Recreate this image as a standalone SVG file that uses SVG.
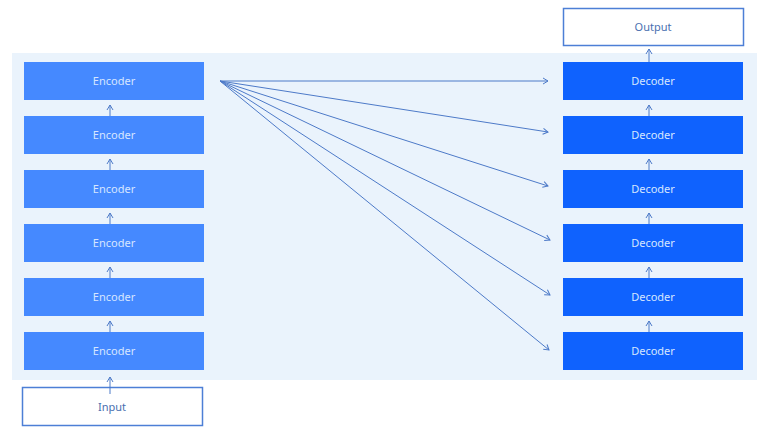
<svg xmlns="http://www.w3.org/2000/svg" width="768" height="432" viewBox="0 0 768 432">
<defs>
<marker id="ah" markerWidth="8" markerHeight="8" refX="6" refY="4" orient="auto" markerUnits="userSpaceOnUse">
<path d="M1,1 L6,4 L1,7" fill="none" stroke="#4d7ac8" stroke-width="1"/>
</marker>
</defs>
<style>
.enc{fill:#4589ff}
.dec{fill:#0f62fe}
.io{fill:#ffffff;stroke:#4d7fd6;stroke-width:1.5}
.t{font-family:"Noto Sans","Liberation Sans",sans-serif;font-size:11px;text-anchor:middle;dominant-baseline:central}
.tl{fill:#d6e6ff}
.td{fill:#4a6fb0}
.c{stroke:#4d7ac8;stroke-width:1;fill:none;marker-end:url(#ah)}
</style>
<rect x="12" y="53" width="745" height="327" fill="#eaf3fc"/>
<g id="input"><rect class="io" x="22.5" y="387.5" width="180" height="38"/><text class="t td" x="112" y="406">Input</text></g>
<g id="output"><rect class="io" x="563.5" y="8.5" width="180" height="37"/><text class="t td" x="653" y="26">Output</text></g>
<g id="encoder1"><rect class="enc" x="24" y="62" width="180" height="38"/><text class="t tl" x="114" y="80">Encoder</text></g>
<g id="encoder2"><rect class="enc" x="24" y="116" width="180" height="38"/><text class="t tl" x="114" y="134">Encoder</text></g>
<g id="encoder3"><rect class="enc" x="24" y="170" width="180" height="38"/><text class="t tl" x="114" y="188">Encoder</text></g>
<g id="encoder4"><rect class="enc" x="24" y="224" width="180" height="38"/><text class="t tl" x="114" y="242">Encoder</text></g>
<g id="encoder5"><rect class="enc" x="24" y="278" width="180" height="38"/><text class="t tl" x="114" y="296">Encoder</text></g>
<g id="encoder6"><rect class="enc" x="24" y="332" width="180" height="38"/><text class="t tl" x="114" y="350">Encoder</text></g>
<g id="decoder1"><rect class="dec" x="563" y="62" width="180" height="38"/><text class="t tl" x="653" y="80">Decoder</text></g>
<g id="decoder2"><rect class="dec" x="563" y="116" width="180" height="38"/><text class="t tl" x="653" y="134">Decoder</text></g>
<g id="decoder3"><rect class="dec" x="563" y="170" width="180" height="38"/><text class="t tl" x="653" y="188">Decoder</text></g>
<g id="decoder4"><rect class="dec" x="563" y="224" width="180" height="38"/><text class="t tl" x="653" y="242">Decoder</text></g>
<g id="decoder5"><rect class="dec" x="563" y="278" width="180" height="38"/><text class="t tl" x="653" y="296">Decoder</text></g>
<g id="decoder6"><rect class="dec" x="563" y="332" width="180" height="38"/><text class="t tl" x="653" y="350">Decoder</text></g>
<g id="connectors">
<path class="c" d="M110,394 V377"/>
<path class="c" d="M110,332 V321"/>
<path class="c" d="M110,278 V267"/>
<path class="c" d="M110,224 V213"/>
<path class="c" d="M110,170 V159"/>
<path class="c" d="M110,116 V105"/>
<path class="c" d="M649,332 V321"/>
<path class="c" d="M649,278 V267"/>
<path class="c" d="M649,224 V213"/>
<path class="c" d="M649,170 V159"/>
<path class="c" d="M649,116 V105"/>
<path class="c" d="M649,62 V49"/>
<path class="c" d="M220,81 L548,81"/>
<path class="c" d="M220,81 L548,132"/>
<path class="c" d="M220,81 L548,186"/>
<path class="c" d="M220,81 L550,240"/>
<path class="c" d="M220,81 L550,295"/>
<path class="c" d="M220,81 L549,350"/>
</g>
</svg>
